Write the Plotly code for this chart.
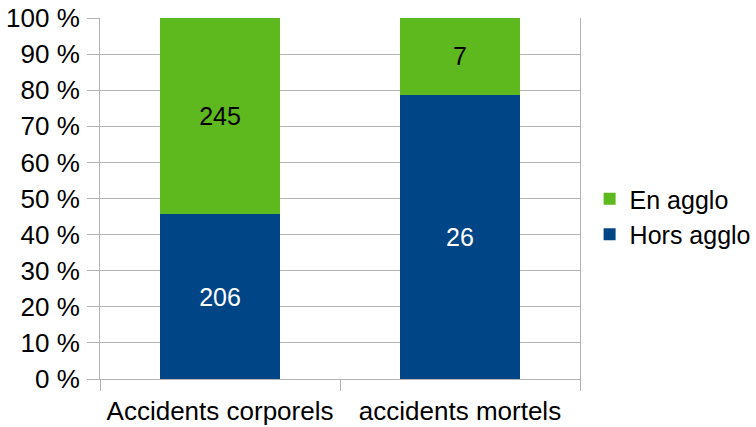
import plotly.graph_objects as go

categories = ["Accidents corporels", "accidents mortels"]
hors_agglo = [206, 26]
en_agglo = [245, 7]

FS = 25
AX_FS = 26

fig = go.Figure()
fig.add_trace(go.Bar(
    name="Hors agglo", x=categories, y=hors_agglo,
    text=[str(v) for v in hors_agglo], textposition="inside", insidetextanchor="middle",
    textfont=dict(color="white", size=FS, family="Liberation Sans"),
    marker=dict(color="#004586", line=dict(width=0)),
))
fig.add_trace(go.Bar(
    name="En agglo", x=categories, y=en_agglo,
    text=[str(v) for v in en_agglo], textposition="inside", insidetextanchor="middle",
    textfont=dict(color="black", size=FS, family="Liberation Sans"),
    marker=dict(color="#5EB91E", line=dict(width=0)),
))

fig.update_layout(
    width=756, height=427,
    barmode="stack", barnorm="percent", bargap=0.5,
    margin=dict(l=100, r=176, t=18, b=48, autoexpand=False),
    plot_bgcolor="white", paper_bgcolor="white",
    font=dict(family="Liberation Sans", size=FS, color="black"),
    showlegend=True,
    legend=dict(x=1.02, y=0.45, xanchor="left", yanchor="middle",
                traceorder="reversed", font=dict(size=FS), itemsizing="constant",
                tracegroupgap=0, itemwidth=30),
    uniformtext=dict(minsize=FS, mode="show"),
)
fig.update_xaxes(
    showline=True, linecolor="#b3b3b3", linewidth=1, automargin=False,
    ticks="outside", tickson="boundaries", ticklen=11, tickcolor="#b3b3b3",
    showgrid=False, tickfont=dict(size=AX_FS), ticklabelstandoff=9,
)
fig.update_yaxes(
    range=[0, 100], dtick=10, ticksuffix=" %", automargin=False,
    showline=True, linecolor="#b3b3b3", linewidth=1, mirror=True,
    ticks="outside", ticklen=12, tickcolor="#b3b3b3",
    showgrid=True, gridcolor="#b3b3b3", gridwidth=1,
    tickfont=dict(size=AX_FS), zeroline=False, ticklabelstandoff=2,
)

fig.write_html("out.html", config={"displayModeBar": False},
               post_script="document.body.style.margin='0';")
